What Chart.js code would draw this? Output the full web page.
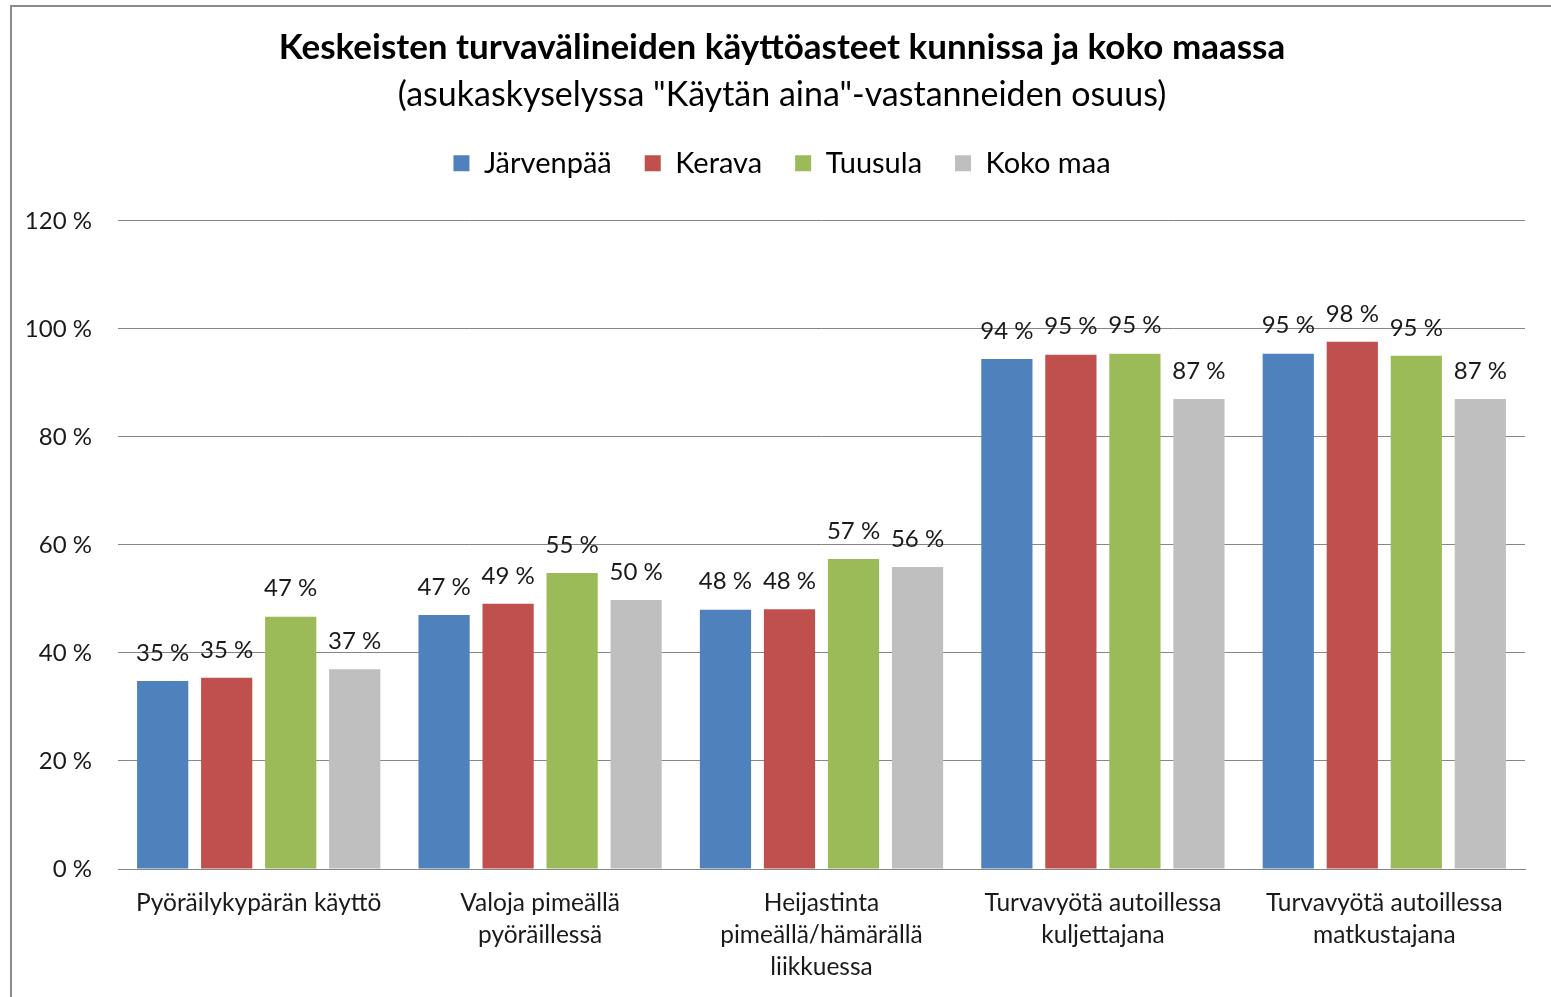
<!DOCTYPE html>
<html><head><meta charset="utf-8">
<script src="https://cdn.jsdelivr.net/npm/chart.js@4"></script>
<style>
html,body{margin:0;padding:0;background:#fff;}
#wrap{position:absolute;left:0;top:0;width:1551px;height:997px;overflow:hidden;}
#frame{position:absolute;left:10px;top:5px;width:1560px;height:1000px;border-left:2px solid #8a8a8a;border-top:2px solid #8a8a8a;pointer-events:none;}
canvas{position:absolute;left:0;top:0;}
</style></head>
<body>
<div id="wrap"><canvas id="c" width="1551" height="997"></canvas><div id="frame"></div></div>
<script>
const categories = [
  "Pyöräilykypärän käyttö",
  ["Valoja pimeällä", "pyöräillessä"],
  ["Heijastinta", "pimeällä/hämärällä", "liikkuessa"],
  ["Turvavyötä autoillessa", "kuljettajana"],
  ["Turvavyötä autoillessa", "matkustajana"]
];
const seriesNames = ["Järvenpää", "Kerava", "Tuusula", "Koko maa"];
const jarvenpaa = [34.8, 47.0, 48.0, 94.4, 95.4];
const kerava    = [35.4, 49.1, 48.1, 95.2, 97.6];
const tuusula   = [46.7, 54.8, 57.4, 95.4, 95.0];
const kokoMaa   = [37.0, 49.8, 55.9, 87.0, 87.0];
const yTicks = [0, 20, 40, 60, 80, 100, 120];
const colors = ["#4F81BD", "#C0504D", "#9BBB59", "#BFBFBF"];
const FONT = "Lato, 'Open Sans', sans-serif";

const labelPlugin = {
  id: 'barLabels',
  afterDatasetsDraw(chart) {
    const ctx = chart.ctx;
    ctx.save();
    ctx.font = "24px " + FONT;
    ctx.fillStyle = "#1a1a1a";
    ctx.textAlign = "center";
    ctx.textBaseline = "middle";
    chart.data.datasets.forEach((ds, i) => {
      const meta = chart.getDatasetMeta(i);
      meta.data.forEach((el, j) => {
        ctx.fillText(Math.round(ds.data[j]) + " %", el.x, el.y - 28);
      });
    });
    ctx.restore();
  }
};

const spacerPlugin = {
  id: 'spacer',
  beforeInit(chart) {
    const box = {
      position: 'top', weight: 100, fullSize: true, options: {},
      top: 0, left: 0, bottom: 0, right: 0, width: 0, height: 0,
      update(maxW) { this.width = maxW; this.height = 33; },
      isHorizontal() { return true; },
      draw() {}
    };
    Chart.layouts.addBox(chart, box);
  }
};

new Chart(document.getElementById('c'), {
  type: 'bar',
  data: {
    labels: categories,
    datasets: [jarvenpaa, kerava, tuusula, kokoMaa].map((d, i) => ({
      label: seriesNames[i], data: d, backgroundColor: colors[i],
      categoryPercentage: 0.91, barPercentage: 0.8
    }))
  },
  options: {
    responsive: false, animation: false,
    layout: { padding: { left: 20, right: 7, top: 10, bottom: 0 } },
    plugins: {
      title: { display: true, text: "Keskeisten turvavälineiden käyttöasteet kunnissa ja koko maassa",
        font: { family: FONT, size: 35, weight: 'bold' }, color: "#000", padding: { top: 17, bottom: 0 } },
      subtitle: { display: true, text: '(asukaskyselyssa "Käytän aina"-vastanneiden osuus)',
        font: { family: FONT, size: 34 }, color: "#000", padding: { top: 6, bottom: 0 } },
      legend: { display: true, labels: { boxWidth: 16, boxHeight: 16, font: { family: FONT, size: 29 }, color: "#000", padding: 33 } },
      tooltip: { enabled: false }
    },
    scales: {
      x: {
        grid: { display: false, drawTicks: false },
        border: { display: true, color: "#868686", width: 1 },
        ticks: { font: { family: FONT, size: 24.5, lineHeight: 1.306 }, color: "#1a1a1a", padding: 18, maxRotation: 0, autoSkip: false },
        afterFit(s) { s.height = 128; }
      },
      y: {
        min: 0, max: 120,
        afterBuildTicks(s) { s.ticks = yTicks.map(v => ({ value: v })); },
        grid: { color: "#868686", lineWidth: 1, drawTicks: false },
        border: { display: false },
        ticks: { font: { family: FONT, size: 24 }, color: "#1a1a1a", padding: 26, callback: v => v + " %" },
        afterFit(s) { s.width = 98; }
      },
      yRight: {
        display: true, position: 'right', min: 0, max: 120,
        grid: { display: false, drawTicks: false },
        border: { display: false },
        ticks: { display: false },
        afterFit(s) { s.width = 19; }
      }
    }
  },
  plugins: [labelPlugin, spacerPlugin]
});
</script>
</body></html>
